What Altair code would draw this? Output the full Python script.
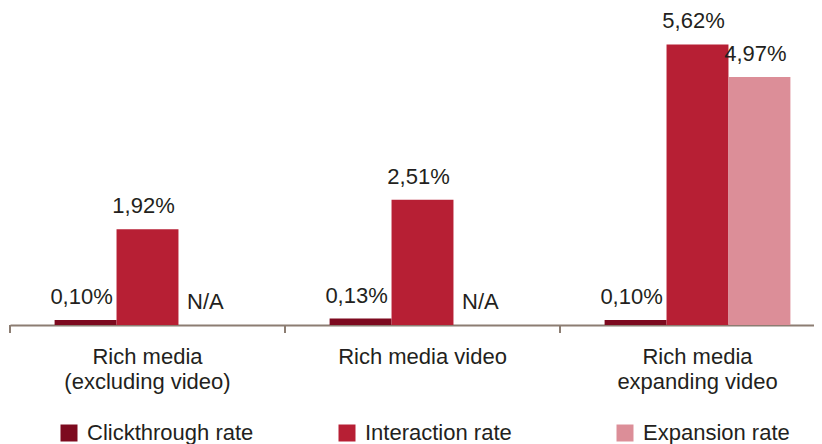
import altair as alt
import pandas as pd

categories = ["Rich media|(excluding video)", "Rich media video", "Rich media|expanding video"]
series = ["Clickthrough rate", "Interaction rate", "Expansion rate"]
clickthrough = [0.10, 0.13, 0.10]
interaction = [1.92, 2.51, 5.62]
expansion = [None, None, 4.97]
colors = ["#7d0a1f", "#b71f34", "#dc8e98"]

rows = []
for i, cat in enumerate(categories):
    for s, vals in zip(series, [clickthrough, interaction, expansion]):
        v = vals[i]
        label = "N/A" if v is None else f"{v:.2f}".replace(".", ",") + "%"
        rows.append({"category": cat, "series": s, "value": v, "label": label})
df = pd.DataFrame(rows)

FONT = "Liberation Sans"
TXT = "#231f20"
AXC = "#8c7d72"
FS = 22

x_enc = alt.X("category:N", sort=categories,
              scale=alt.Scale(range=[0, 825], paddingInner=0, paddingOuter=0),
              axis=alt.Axis(title=None, ticks=False, labelAngle=0, domainColor=AXC, domainWidth=2,
                            labelFont=FONT, labelFontSize=FS, labelColor=TXT, labelPadding=21,
                            labelLineHeight=25, labelExpr="split(datum.label, '|')", labelLimit=400))
xo_enc = alt.XOffset("series:N", sort=series,
                     scale=alt.Scale(domain=series, paddingInner=0, paddingOuter=0.72))
y_enc = alt.Y("ypos:Q", scale=alt.Scale(domain=[0, 6.35], nice=False), axis=None)

base = alt.Chart(df).transform_calculate(
    ypos="isValid(datum.value) ? datum.value : 0"
)

bars = base.transform_filter("isValid(datum.value)").mark_bar(strokeWidth=0).encode(
    x=x_enc,
    xOffset=xo_enc,
    y=y_enc,
    color=alt.Color("series:N", sort=series,
                    scale=alt.Scale(domain=series, range=colors),
                    legend=alt.Legend(title=None, orient="none", direction="horizontal",
                                      legendX=48, legendY=414, symbolType="square",
                                      symbolSize=289, symbolStrokeWidth=0, symbolOpacity=1,
                                      labelFont=FONT, labelFontSize=FS, labelColor=TXT,
                                      labelOffset=7, gridAlign="all", columnPadding=82,
                                      labelLimit=300)),
)

texts = base.mark_text(font=FONT, fontSize=FS, color=TXT, baseline="alphabetic", dy=-16, dx=-4).encode(
    x=x_enc,
    xOffset=xo_enc,
    y=y_enc,
    text="label:N",
)

ticks = alt.Chart(pd.DataFrame({"category": categories})).mark_rule(color=AXC, strokeWidth=2).encode(
    x=alt.X("category:N", sort=categories, bandPosition=0),
    y=alt.value(317),
    y2=alt.value(325),
)

chart = alt.layer(bars, texts, ticks).properties(
    width=804, height=317,
    autosize=alt.AutoSizeParams(type="none"),
    padding={"left": 2, "top": 0, "right": 0, "bottom": 119},
).configure_view(stroke=None)

chart.save("out.html", embed_options={"renderer": "svg", "actions": False})
